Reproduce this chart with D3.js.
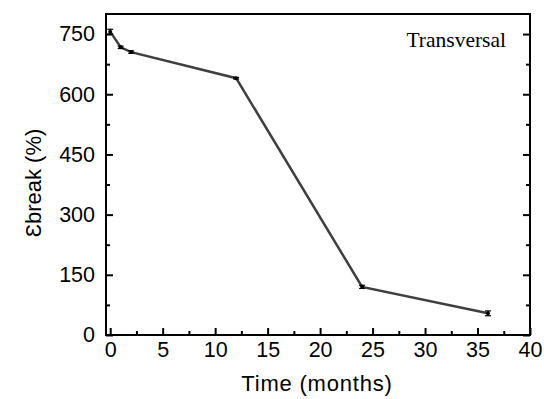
<!DOCTYPE html>
<html><head><meta charset="utf-8">
<script src="https://cdn.jsdelivr.net/npm/d3@7"></script>
<style>body{margin:0;background:#fff}</style>
</head><body>
<svg id="c" width="544" height="399"></svg>
<script>
const months = [0, 1, 2, 12, 24, 36];
const strain = [756, 717, 705, 640, 120, 54];
const errors = [6, 3, 3, 2, 4, 6];
const xTicks = [0, 5, 10, 15, 20, 25, 30, 35, 40];
const yTicks = [0, 150, 300, 450, 600, 750];

const svg = d3.select("#c");
const L = 106, R = 530, T = 14, B = 335;
const x = d3.scaleLinear().domain([-0.4, 40]).range([L, R]);
const y = d3.scaleLinear().domain([0, 800]).range([B, T]);

const g = svg.append("g");
g.append("rect").attr("x", L).attr("y", T).attr("width", R - L).attr("height", B - T)
  .attr("fill", "none").attr("stroke", "#000").attr("stroke-width", 2);

const font = "Liberation Sans, Arial, sans-serif";
const xa = g.append("g").attr("transform", `translate(0,${B})`)
  .call(d3.axisBottom(x).tickValues(xTicks).tickSize(-7).tickPadding(7).tickFormat(d3.format("d")));
const xm = g.append("g").attr("transform", `translate(0,${B})`)
  .call(d3.axisBottom(x).tickValues(d3.range(2.5, 40, 5)).tickSize(-4).tickFormat(""));
const ya = g.append("g").attr("transform", `translate(${L},0)`)
  .call(d3.axisLeft(y).tickValues(yTicks).tickSize(-7).tickPadding(11).tickFormat(d3.format("d")));
const ym = g.append("g").attr("transform", `translate(${L},0)`)
  .call(d3.axisLeft(y).tickValues(d3.range(75, 800, 150)).tickSize(-4).tickFormat(""));
const yr = g.append("g").attr("transform", `translate(${R},0)`)
  .call(d3.axisRight(y).tickValues(yTicks).tickSize(-7).tickFormat(""));
const yrm = g.append("g").attr("transform", `translate(${R},0)`)
  .call(d3.axisRight(y).tickValues(d3.range(75, 800, 150)).tickSize(-4).tickFormat(""));
[xa, xm, ya, ym, yr, yrm].forEach(a => {
  a.select(".domain").remove();
  a.selectAll("line").attr("stroke", "#000").attr("stroke-width", 2);
  a.selectAll("text").attr("font-family", font).attr("font-size", 21.5).attr("fill", "#000");
});
xa.selectAll("text").attr("dy", "0.71em");

const data = months.map((m, i) => ({m, v: strain[i], e: errors[i]}));
g.append("path").datum(data)
  .attr("d", d3.line().x(d => x(d.m)).y(d => y(d.v)))
  .attr("fill", "none").attr("stroke", "#3f3f3f").attr("stroke-width", 2.5);

const eb = g.append("g").selectAll("g").data(data).join("g");
eb.append("line").attr("x1", d => x(d.m)).attr("x2", d => x(d.m))
  .attr("y1", d => y(d.v - d.e)).attr("y2", d => y(d.v + d.e)).attr("stroke", "#000").attr("stroke-width", 1.2);
eb.append("line").attr("x1", d => x(d.m) - 3).attr("x2", d => x(d.m) + 3)
  .attr("y1", d => y(d.v - d.e)).attr("y2", d => y(d.v - d.e)).attr("stroke", "#000").attr("stroke-width", 1.2);
eb.append("line").attr("x1", d => x(d.m) - 3).attr("x2", d => x(d.m) + 3)
  .attr("y1", d => y(d.v + d.e)).attr("y2", d => y(d.v + d.e)).attr("stroke", "#000").attr("stroke-width", 1.2);
eb.append("circle").attr("cx", d => x(d.m)).attr("cy", d => y(d.v)).attr("r", 2).attr("fill", "#000");

svg.append("text").attr("x", 317).attr("y", 391).attr("text-anchor", "middle")
  .attr("font-family", font).attr("font-size", 22).attr("letter-spacing", 0.8).text("Time (months)");
svg.append("text").attr("transform", "translate(41,183) rotate(-90)").attr("text-anchor", "middle")
  .attr("font-family", font).attr("font-size", 22).text("Ɛbreak (%)");
svg.append("text").attr("x", 506).attr("y", 47).attr("text-anchor", "end")
  .attr("font-family", "Liberation Serif, Times New Roman, serif").attr("font-size", 21.5).text("Transversal");
</script>
</body></html>
